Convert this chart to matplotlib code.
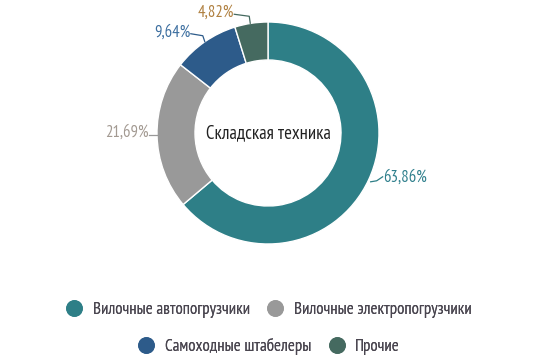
import matplotlib
matplotlib.use('Agg')
import matplotlib.pyplot as plt
import numpy as np
from matplotlib.lines import Line2D

plt.rcParams['font.family'] = ['PT Sans Narrow', 'Roboto Condensed', 'DejaVu Sans']

# Data
categories = ["Вилочные автопогрузчики", "Вилочные электропогрузчики",
              "Самоходные штабелеры", "Прочие"]
shares = [63.86, 21.69, 9.64, 4.82]
labels = ["63,86%", "21,69%", "9,64%", "4,82%"]
center_title = "Складская техника"

colors = ['#2E7F87', '#999999', '#2D5B8A', '#456A60']
label_colors = ['#2E7F8C', '#A39A92', '#3D6FA0', '#B08040']

fig = plt.figure(figsize=(5.36, 3.6), dpi=100)
ax = fig.add_axes([0, 0, 1, 1])

cx, cy, R = 268, 227, 111
wedges, _ = ax.pie(shares, colors=colors, startangle=90, counterclock=False,
                   center=(cx, cy), radius=R, frame=True,
                   wedgeprops=dict(width=38, edgecolor='white', linewidth=1))
ax.set_xlim(0, 536)
ax.set_ylim(0, 360)
ax.axis('off')

ax.text(cx, cy, center_title, ha='center', va='center', fontsize=13.5, color='#222222')

# Labels with leader lines
for i, w in enumerate(wedges):
    ang = np.deg2rad((w.theta1 + w.theta2) / 2)
    x0, y0 = cx + R * np.cos(ang), cy + R * np.sin(ang)
    if i == 0:
        pts = [(x0 + 2, y0 - 2), (x0 + 8, y0 - 1), (x0 + 14, y0 + 3)]
        tx, ty, ha = x0 + 14, y0 + 2, 'left'
    elif i == 1:
        pts = [(x0, y0), (x0 - 8, y0)]
        tx, ty, ha = x0 - 8, y0 + 2, 'right'
    elif i == 2:
        pts = [(x0, y0), (x0 - 2, y0 + 6), (x0 - 14, y0 + 8)]
        tx, ty, ha = x0 - 14, y0 + 9, 'right'
    else:
        pts = [(x0 - 1, y0), (x0 - 2, y0 + 7), (x0 - 17, y0 + 9)]
        tx, ty, ha = x0 - 17, y0 + 11, 'right'
    xs, ys = zip(*pts)
    ax.plot(xs, ys, color=colors[i], lw=0.9)
    ax.text(tx, ty, labels[i], ha=ha, va='center', fontsize=12, color=label_colors[i])

# Legend in two centred rows
def handle(c):
    return Line2D([], [], marker='o', linestyle='none', markersize=11,
                  markerfacecolor=c, markeredgecolor=c)

rows = [(0, 2, 0.14), (2, 4, 0.037)]
for a, b, y in rows:
    leg = fig.legend([handle(colors[k]) for k in range(a, b)], categories[a:b],
                     loc='center', bbox_to_anchor=(0.5, y), ncol=b - a,
                     frameon=False, fontsize=12.2, handletextpad=0.5,
                     columnspacing=0.9, handlelength=1.2)
    for t in leg.get_texts():
        t.set_color('#4A4650')
    fig.add_artist(leg)

fig.savefig('out.png', dpi=100)
